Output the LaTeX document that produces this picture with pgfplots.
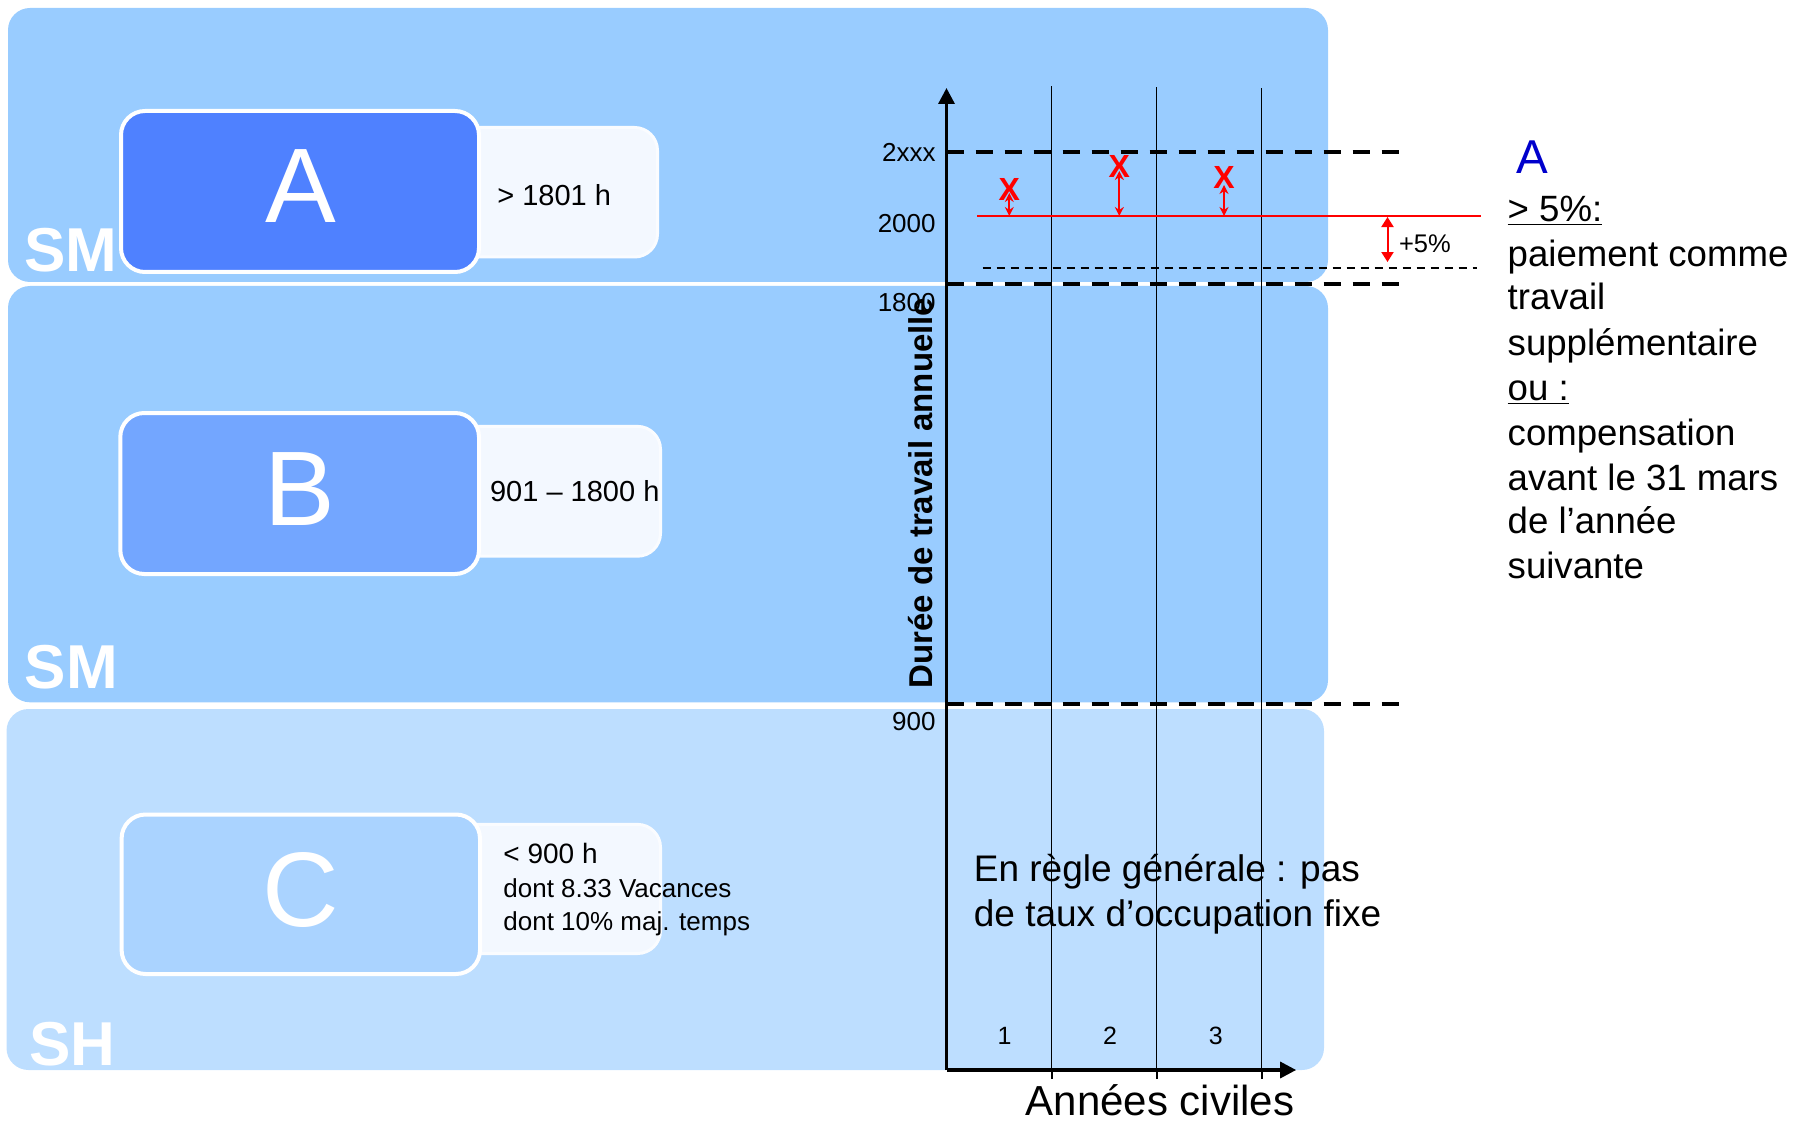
\documentclass[border=0pt]{standalone}
\usepackage{fontspec}
\setmainfont{Liberation Sans}
\usepackage{pgfplots}
\pgfplotsset{compat=1.18}
\usetikzlibrary{arrows.meta}

\definecolor{bandAB}{HTML}{99CCFF}
\definecolor{bandC}{HTML}{BDDEFF}
\definecolor{boxA}{HTML}{4F81FF}
\definecolor{boxB}{HTML}{73A6FF}
\definecolor{boxC}{HTML}{AAD3FF}
\definecolor{tagfill}{HTML}{F3F8FF}
\definecolor{tagedge}{HTML}{FAFCFF}
\definecolor{blueA}{HTML}{0000CC}

\newcommand{\fs}[1]{\fontsize{#1}{#1}\selectfont}

\begin{document}
\begin{tikzpicture}
\path[use as bounding box] (0,0) rectangle (899.5pt,-561.5pt);

% background bands, tags and letter boxes (1 unit = 1 px of the reference)
\begin{scope}[x=0.5pt,y=-0.5pt]
  \fill[bandAB, rounded corners=11pt] (8,8) rectangle (1328,282);
  \fill[bandAB, rounded corners=11pt] (8,286) rectangle (1328,702.3);
  \fill[bandC, rounded corners=11pt] (6.5,709) rectangle (1324,1070);

  \filldraw[fill=tagfill, draw=tagedge, line width=1.5pt, rounded corners=11.5pt] (440,127.5) rectangle (657.5,257);
  \filldraw[fill=tagfill, draw=tagedge, line width=1.5pt, rounded corners=11.5pt] (440,426.4) rectangle (660.5,556.2);
  \filldraw[fill=tagfill, draw=tagedge, line width=1.5pt, rounded corners=11.5pt] (440,824.4) rectangle (660.5,953.5);

  \filldraw[fill=boxA, draw=white, line width=2pt, rounded corners=12pt] (121,111) rectangle (479,272);
  \filldraw[fill=boxB, draw=white, line width=2pt, rounded corners=12pt] (120.3,413) rectangle (479,574);
  \filldraw[fill=boxC, draw=white, line width=2pt, rounded corners=12pt] (121.6,814.5) rectangle (480,974);

  \node[text=white, inner sep=0pt, font=\fs{53pt}] at (301,186) {A};
  \node[text=white, inner sep=0pt, font=\fs{53pt}] at (300,489) {B};
  \node[text=white, inner sep=0pt, font=\fs{53pt}] at (301,890) {C};

  \node[anchor=base west, inner sep=0pt, text=white, font=\fs{31pt}\bfseries] at (24,271) {SM};
  \node[anchor=base west, inner sep=0pt, text=white, font=\fs{31pt}\bfseries] at (24.5,688) {SM};
  \node[anchor=base west, inner sep=0pt, text=white, font=\fs{31pt}\bfseries] at (28.6,1065.5) {SH};

  \node[anchor=base west, inner sep=0pt, font=\fs{14.5pt}] at (497,205.8) {> 1801 h};
  \node[anchor=base west, inner sep=0pt, font=\fs{14.5pt}] at (489.7,501.2) {901 \textendash{} 1800 h};
  \node[anchor=base west, inner sep=0pt, font=\fs{14pt}] at (503,863) {< 900 h};
  \node[anchor=base west, inner sep=0pt, font=\fs{13pt}] at (503,897.5) {dont 8.33 Vacances};
  \node[anchor=base west, inner sep=0pt, font=\fs{13pt}] at (503,930) {dont 10\% maj. temps};
\end{scope}

\begin{axis}[
  at={(473.25pt,-535pt)}, anchor=south west,
  scale only axis, width=174.825pt, height=491pt,
  xmin=0, xmax=3.33, ymin=0, ymax=982,
  enlargelimits=false, clip=false,
  axis lines=left,
  every outer x axis line/.append style={line width=1.65pt, -{Triangle[length=8pt,width=8pt]}},
  every outer y axis line/.append style={line width=1.65pt, -{Triangle[length=8pt,width=8pt]}},
  xtick={1,2,3}, xticklabels={},
  xtick align=outside, major tick length=4.5pt,
  xtick style={line width=1pt, black},
  ytick={348.3,767.2,846,918},
  yticklabels={900,1800,2000,2xxx},
  ytick style={draw=none},
  yticklabel style={inner sep=0pt, xshift=-3pt, font=\fs{13pt}},
  /pgf/number format/assume math mode=true,
]
% year boundaries
\addplot[black, line width=0.65pt] coordinates {(1,0) (1,984)};
\addplot[black, line width=0.65pt] coordinates {(2,0) (2,983)};
\addplot[black, line width=0.65pt] coordinates {(3,0) (3,982)};
% thresholds 2xxx, 1800, 900
\addplot[black, line width=2pt, dash pattern=on 8.5pt off 6pt] coordinates {(0,917.5) (4.333,917.5)};
\addplot[black, line width=2pt, dash pattern=on 8.5pt off 6pt] coordinates {(0,786) (4.333,786)};
\addplot[black, line width=2pt, dash pattern=on 8.5pt off 6pt] coordinates {(0,365.7) (4.36,365.7)};
% +5% level below 2000
\addplot[black, line width=1pt, dash pattern=on 4pt off 3pt] coordinates {(0.343,802.2) (5.052,802.2)};
% 2000 target line
\addplot[red, line width=1pt] coordinates {(0.293,854) (5.088,854)};
% deviations per year
\addplot[red, line width=1.1pt, >={Stealth[length=4.5pt,width=4.5pt]}, <->] coordinates {(0.598,854) (0.598,877)};
\addplot[red, line width=1.1pt, >={Stealth[length=4.5pt,width=4.5pt]}, <->] coordinates {(1.646,854) (1.646,899)};
\addplot[red, line width=1.1pt, >={Stealth[length=4.5pt,width=4.5pt]}, <->] coordinates {(2.643,854) (2.643,885)};
\addplot[red, only marks, mark=text, text mark={X}, text mark as node=true,
  text mark style={font=\fs{16pt}\bfseries, inner sep=0pt, text=red}]
  coordinates {(0.598,880.7) (1.646,903.3) (2.643,892.7)};
% +5% arrow
\addplot[red, line width=1pt, >={Triangle[length=5pt,width=6pt]}, <->] coordinates {(4.2,853) (4.2,808)};
\node[anchor=west, inner sep=0pt, font=\fs{12.75pt}] at (axis cs:4.306,826) {+5\%};
% year numbers
\node[font=\fs{12.5pt}, inner sep=0pt] at (axis cs:0.553,34.3) {1};
\node[font=\fs{12.5pt}, inner sep=0pt] at (axis cs:1.557,34.3) {2};
\node[font=\fs{12.5pt}, inner sep=0pt] at (axis cs:2.565,34.3) {3};
\end{axis}

\begin{scope}[x=0.5pt,y=-0.5pt]
  \node[rotate=90, anchor=base, inner sep=0pt, font=\fs{16.5pt}\bfseries] at (932.7,493) {Durée de travail annuelle};
  \node[anchor=base, inner sep=0pt, font=\fs{21pt}] at (1160,1115) {Années civiles};
  \node[anchor=base west, inner sep=0pt, font=\fs{18.5pt}] at (973.5,881.3) {En règle générale : pas};
  \node[anchor=base west, inner sep=0pt, font=\fs{18.5pt}] at (973.5,926.2) {de taux d’occupation fixe};

  \node[anchor=base west, inner sep=0pt, text=blueA, font=\fs{23.75pt}] at (1516,174) {A};
  \node[anchor=base west, inner sep=0pt, font=\fs{18.3pt}] at (1507.3,221.7) {\underline{> 5\%:}};
  \node[anchor=base west, inner sep=0pt, font=\fs{18.3pt}] at (1507.3,266.7) {paiement comme};
  \node[anchor=base west, inner sep=0pt, font=\fs{18.3pt}] at (1507.3,310) {travail};
  \node[anchor=base west, inner sep=0pt, font=\fs{18.3pt}] at (1507.3,355) {supplémentaire};
  \node[anchor=base west, inner sep=0pt, font=\fs{18.3pt}] at (1507.3,400) {\underline{ou :}};
  \node[anchor=base west, inner sep=0pt, font=\fs{18.3pt}] at (1507.3,445) {compensation};
  \node[anchor=base west, inner sep=0pt, font=\fs{18.3pt}] at (1507.3,490) {avant le 31 mars};
  \node[anchor=base west, inner sep=0pt, font=\fs{18.3pt}] at (1507.3,533) {de l’année};
  \node[anchor=base west, inner sep=0pt, font=\fs{18.3pt}] at (1507.3,578) {suivante};
\end{scope}
\end{tikzpicture}
\end{document}
